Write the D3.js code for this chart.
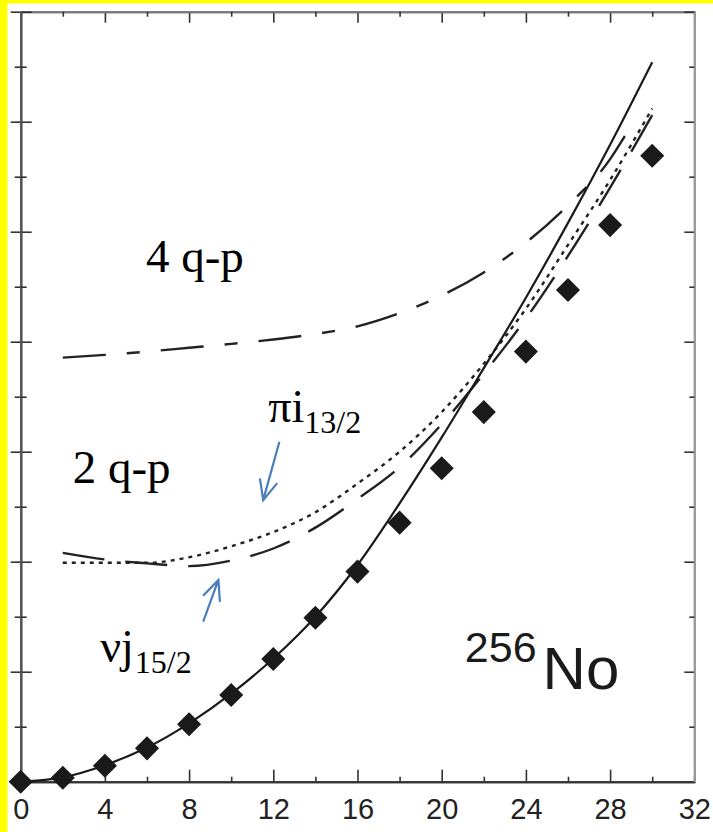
<!DOCTYPE html>
<html>
<head>
<meta charset="utf-8">
<script src="https://cdn.jsdelivr.net/npm/d3@7"></script>
<style>
  body { margin:0; padding:0; background:#fff; }
  svg { display:block; }
</style>
</head>
<body>
<svg id="chart" width="713" height="832"></svg>
<script>
// spin values (x) and excitation energies in MeV (y)
var spins = [0,2,4,6,8,10,12,14,16,18,20,22,24,26,28,30];
var exptEnergy = [0,0.036,0.145,0.303,0.522,0.788,1.115,1.49,1.91,2.355,2.85,3.36,3.91,4.47,5.06,5.69];
var gsbEnergy = [0,0.04,0.15,0.31,0.53,0.80,1.12,1.50,1.97,2.53,3.13,3.76,4.40,5.08,5.79,6.54];

var qp2Spins = [2,4,6,8,10,12,14,16,18,20,22,24,26,28,30];
var piEnergy = [1.99,1.99,1.99,2.04,2.14,2.27,2.45,2.71,3.0,3.36,3.8,4.3,4.88,5.47,6.12];
var nuEnergy = [2.08,2.02,1.985,1.96,2.01,2.12,2.31,2.57,2.86,3.25,3.71,4.21,4.78,5.4,6.06];

var qp4Spins = [2,4,6,8,10,12,14,16,18,20,22,24,26,28,28.7];
var qp4Energy = [3.855,3.88,3.91,3.945,3.98,4.02,4.07,4.14,4.26,4.42,4.63,4.9,5.24,5.66,5.87];

var xMajor = [0,4,8,12,16,20,24,28,32];
var xMinor = [2,6,10,14,18,22,26,30];
var yMajor = [0,1,2,3,4,5,6,7];
var yMinor = [0.5,1.5,2.5,3.5,4.5,5.5,6.5];

var svg = d3.select("#chart");
var margin = {left: 20.7, right: 18.7, top: 11.7, bottom: 50.3};
var W = 713, H = 832;

var x = d3.scaleLinear().domain([0, 32]).range([margin.left, W - margin.right]);
var y = d3.scaleLinear().domain([0, 7]).range([H - margin.bottom, margin.top]);

// yellow edges of the slide
svg.append("rect").attr("x", 0).attr("y", 0).attr("width", 7.5).attr("height", H).attr("fill", "#ffff00");
svg.append("rect").attr("x", 0).attr("y", 0).attr("width", W).attr("height", 3.5).attr("fill", "#ffff00");

function styleAxis(g, col) {
  g.select(".domain").attr("stroke", col).attr("stroke-width", 2);
  g.selectAll(".tick line").attr("stroke", "#333").attr("stroke-width", 1.6);
}

// bottom axis
var gx = svg.append("g")
    .attr("transform", "translate(0," + y(0) + ")")
    .call(d3.axisBottom(x).tickValues(xMajor).tickSizeInner(-12).tickSizeOuter(0).tickPadding(17));
styleAxis(gx, "#333");
gx.selectAll("text")
    .attr("font-family", "Liberation Sans, Arial, sans-serif")
    .attr("font-size", 29)
    .attr("fill", "#222");
var gxm = svg.append("g")
    .attr("transform", "translate(0," + y(0) + ")")
    .call(d3.axisBottom(x).tickValues(xMinor).tickSize(-5).tickFormat(""));
styleAxis(gxm, "#333");

// top axis
var gt = svg.append("g")
    .attr("transform", "translate(0," + y(7) + ")")
    .call(d3.axisTop(x).tickValues(xMajor).tickSizeInner(-11).tickSizeOuter(0).tickFormat(""));
styleAxis(gt, "#777");
var gtm = svg.append("g")
    .attr("transform", "translate(0," + y(7) + ")")
    .call(d3.axisTop(x).tickValues(xMinor).tickSize(-5).tickFormat(""));
styleAxis(gtm, "#777");

// left axis, ticks on both sides
var gl = svg.append("g")
    .attr("transform", "translate(" + x(0) + ",0)")
    .call(d3.axisLeft(y).tickValues(yMajor).tickSizeInner(10).tickSizeOuter(0).tickFormat(""));
styleAxis(gl, "#555");
var gl2 = svg.append("g")
    .attr("transform", "translate(" + x(0) + ",0)")
    .call(d3.axisLeft(y).tickValues(yMajor).tickSizeInner(-11).tickSizeOuter(0).tickFormat(""));
styleAxis(gl2, "#555");
var glm = svg.append("g")
    .attr("transform", "translate(" + x(0) + ",0)")
    .call(d3.axisLeft(y).tickValues(yMinor).tickSizeInner(6).tickSizeOuter(0).tickFormat(""));
styleAxis(glm, "#555");
var glm2 = svg.append("g")
    .attr("transform", "translate(" + x(0) + ",0)")
    .call(d3.axisLeft(y).tickValues(yMinor).tickSizeInner(-6).tickSizeOuter(0).tickFormat(""));
styleAxis(glm2, "#555");

// right axis, ticks inward
var gr = svg.append("g")
    .attr("transform", "translate(" + x(32) + ",0)")
    .call(d3.axisRight(y).tickValues(yMajor).tickSizeInner(-10).tickSizeOuter(0).tickFormat(""));
styleAxis(gr, "#999");
var grm = svg.append("g")
    .attr("transform", "translate(" + x(32) + ",0)")
    .call(d3.axisRight(y).tickValues(yMinor).tickSizeInner(-5).tickSizeOuter(0).tickFormat(""));
styleAxis(grm, "#999");

// curves
var line = d3.line()
    .x(function(d) { return x(d[0]); })
    .y(function(d) { return y(d[1]); })
    .curve(d3.curveMonotoneX);

function zipPts(xs, ys) {
  return xs.map(function(v, i) { return [v, ys[i]]; });
}

// stretch a dash pattern so the path starts and ends on a full first dash
function fitDash(path, pattern) {
  var L = path.node().getTotalLength();
  var period = d3.sum(pattern);
  var n = Math.max(1, Math.round((L - pattern[0]) / period));
  var s = L / (n * period + pattern[0]);
  path.attr("stroke-dasharray", pattern.map(function(v) { return v * s; }).join(","));
}

var qp4Path = svg.append("path")
    .datum(zipPts(qp4Spins, qp4Energy))
    .attr("d", line)
    .attr("fill", "none")
    .attr("stroke", "#222")
    .attr("stroke-width", 2.4);
fitDash(qp4Path, [43, 21, 13, 21]);

var nuPath = svg.append("path")
    .datum(zipPts(qp2Spins, nuEnergy))
    .attr("d", line)
    .attr("fill", "none")
    .attr("stroke", "#222")
    .attr("stroke-width", 2.4);
fitDash(nuPath, [42, 21]);

svg.append("path")
    .datum(zipPts(qp2Spins, piEnergy))
    .attr("d", line)
    .attr("fill", "none")
    .attr("stroke", "#222")
    .attr("stroke-width", 2.4)
    .attr("stroke-dasharray", "4,5");

svg.append("path")
    .datum(zipPts(spins, gsbEnergy))
    .attr("d", line)
    .attr("fill", "none")
    .attr("stroke", "#1a1a1a")
    .attr("stroke-width", 2.2);

// experimental points
var diamond = d3.symbol().type(d3.symbolSquare).size(290);
svg.append("g")
    .selectAll("path")
    .data(zipPts(spins, exptEnergy))
    .enter().append("path")
    .attr("d", diamond)
    .attr("transform", function(d) {
        return "translate(" + x(d[0]) + "," + y(d[1]) + ") rotate(45)";
    })
    .attr("fill", "#1a1a1a");

// labels
var serif = "Liberation Serif, Times New Roman, serif";
svg.append("text")
    .attr("x", x(5.95)).attr("y", y(4.636))
    .attr("font-family", serif).attr("font-size", 47)
    .text("4 q-p");
svg.append("text")
    .attr("x", x(2.47)).attr("y", y(2.713))
    .attr("font-family", serif).attr("font-size", 47)
    .text("2 q-p");

var piLabel = svg.append("text")
    .attr("x", x(11.76)).attr("y", y(3.273))
    .attr("font-family", serif).attr("font-size", 46);
piLabel.append("tspan").text("\u03c0i");
piLabel.append("tspan").attr("font-size", 32).attr("dy", 11).text("13/2");

var nuLabel = svg.append("text")
    .attr("x", x(3.78)).attr("y", y(1.088))
    .attr("font-family", serif).attr("font-size", 46);
nuLabel.append("tspan").text("\u03bdj");
nuLabel.append("tspan").attr("font-size", 32).attr("dy", 11).attr("dx", 1).text("15/2");

var noLabel = svg.append("text")
    .attr("x", x(21.1)).attr("y", y(1.09))
    .attr("font-family", "Liberation Sans, Arial, sans-serif")
    .attr("font-size", 43)
    .attr("fill", "#1a1a1a");
noLabel.append("tspan").text("256");
noLabel.append("tspan").attr("font-size", 60).attr("dy", 27.6).attr("dx", 6).text("No");

// blue arrows pointing to the 2 q-p curves
var arrows = [
  {from: [12.29, 3.09], to: [11.52, 2.56]},
  {from: [8.67, 1.455], to: [9.39, 1.834]}
];
arrows.forEach(function(a) {
  var x1 = x(a.from[0]), y1 = y(a.from[1]), x2 = x(a.to[0]), y2 = y(a.to[1]);
  var ang = Math.atan2(y2 - y1, x2 - x1);
  var hl = 22, spread = 0.42;
  var p = d3.path();
  p.moveTo(x1, y1); p.lineTo(x2, y2);
  p.moveTo(x2 - hl * Math.cos(ang - spread), y2 - hl * Math.sin(ang - spread));
  p.lineTo(x2, y2);
  p.lineTo(x2 - hl * Math.cos(ang + spread), y2 - hl * Math.sin(ang + spread));
  svg.append("path")
      .attr("d", p.toString())
      .attr("fill", "none")
      .attr("stroke", "#4a7ebb")
      .attr("stroke-width", 2.2)
      .attr("stroke-linejoin", "miter");
});
</script>
</body>
</html>
